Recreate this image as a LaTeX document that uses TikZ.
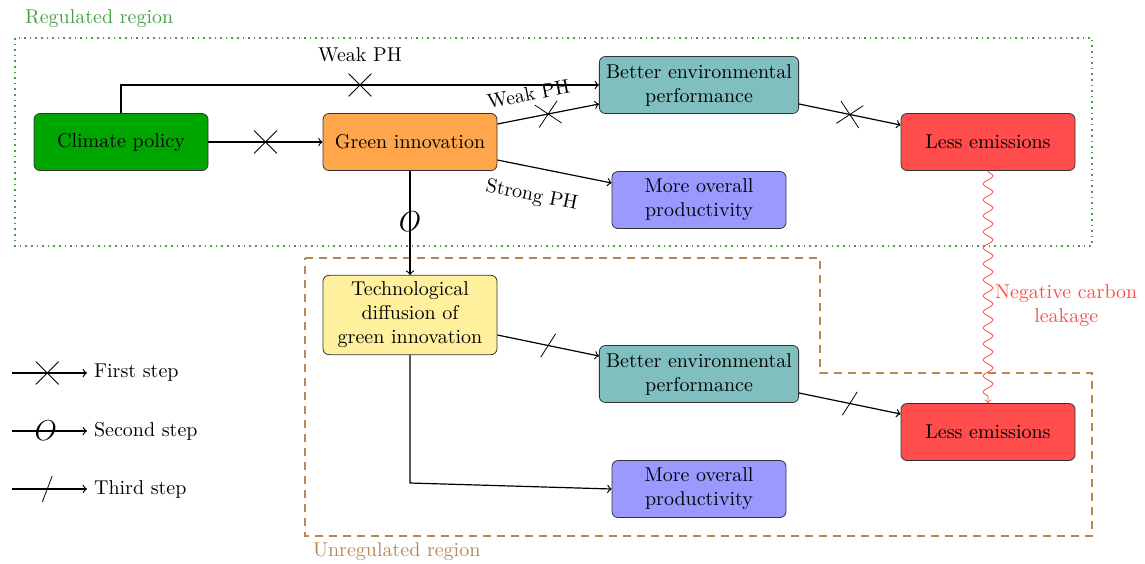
\documentclass[tikz,border=0pt]{standalone}
\usepackage{amssymb,amsmath}
\usepackage{tikz}
\usetikzlibrary{positioning, shapes, shapes.misc, decorations.pathmorphing}

\definecolor{regcol}{RGB}{70,160,70}
\definecolor{unregcol}{RGB}{185,135,85}
\definecolor{diffcol}{RGB}{255,240,158}

\begin{document}
\begin{tikzpicture}[x=0.5pt, y=-0.5pt,
    box/.style={draw=black!80, rounded corners=3pt, align=center, minimum width=87pt, minimum height=28.5pt},
    link/.style={semithick, ->},
    crossmark/.style={draw, thin, cross out, sloped, minimum size=11pt, inner sep=0pt},
    slashmark/.style={draw, thin, strike out, sloped, minimum width=4.5pt, minimum height=12.5pt, inner sep=0pt},
    omark/.style={font=\Large, inner sep=0pt},
    leak/.style={red!70, ->, decorate, decoration={snake, amplitude=2.5pt, segment length=8pt, post length=3pt}}]

    \useasboundingbox (0,0) rectangle (1145,563);

    % Regions
    \draw[regcol, dotted, thick] (15,38) rectangle (1092,246);
    \node[anchor=west, text=regcol] (reglabel) at (18,19) {Regulated region};

    \draw[unregcol, dashed, thick, dash pattern=on 4pt off 3pt]
        (305,258) -- (820,258) -- (820,373) -- (1092,373) -- (1092,536) -- (305,536) -- cycle;
    \node[anchor=west, text=unregcol] (unreglabel) at (306,552) {Unregulated region};

    % Boxes in the regulated region
    \node[box, fill=green!65!black] (cp) at (121,142) {Climate policy};
    \node[box, fill=orange!70] (gi) at (410,142) {Green innovation};
    \node[box, fill=teal!50] (be1) at (699,85) {Better environmental\\performance};
    \node[box, fill=blue!40] (mo1) at (699,200) {More overall\\productivity};
    \node[box, fill=red!70] (le1) at (988,142) {Less emissions};

    % Boxes in the unregulated region
    \node[box, fill=diffcol] (td) at (410,315) {Technological\\diffusion of\\green innovation};
    \node[box, fill=teal!50] (be2) at (699,374) {Better environmental\\performance};
    \node[box, fill=blue!40] (mo2) at (699,489) {More overall\\productivity};
    \node[box, fill=red!70] (le2) at (988,432) {Less emissions};

    % First step
    \draw[link] (cp.north) |- (be1.west) node[pos=0.75, crossmark] {} node[pos=0.75, above=8pt] {Weak PH};
    \draw[link] (cp) -- (gi) node[midway, crossmark] {};
    \draw[link] ([yshift=9pt]gi.east) -- ([yshift=-9.5pt]be1.west)
        node[midway, crossmark] {} node[pos=0.35, sloped, above=4.5pt] {Weak PH};
    \draw[link] ([yshift=-9pt]gi.east) -- ([yshift=8.5pt]mo1.west) node[pos=0.35, sloped, below=6pt] {Strong PH};
    \draw[link] ([yshift=-9.5pt]be1.east) -- ([yshift=8.5pt]le1.west) node[midway, crossmark] {};

    % Second step
    \draw[link] (gi) -- (td) node[pos=0.49, omark] {$O$};

    % Third step
    \draw[link] ([yshift=-10pt]td.east) -- ([yshift=9pt]be2.west) node[midway, slashmark] {};
    \draw[link] ([yshift=-9.5pt]be2.east) -- ([yshift=9pt]le2.west) node[midway, slashmark] {};
    \draw[link] (td.south) -- ([yshift=3pt]td.south |- mo2.west) -- (mo2.west);

    % Leakage
    \draw[leak] (le1) -- (le2) node[pos=0.58, right, align=center, text=red!70] {Negative carbon\\leakage};

    % Legend
    \node[anchor=west] (leg1) at (87,373) {First step};
    \node[anchor=west] (leg2) at (87,431) {Second step};
    \node[anchor=west] (leg3) at (87,489) {Third step};
    \coordinate (l1) at (12,373);
    \coordinate (l2) at (12,431);
    \coordinate (l3) at (12,489);
    \draw[link] (l1) -- (leg1.west) node[pos=0.47, crossmark] {};
    \draw[link] (l2) -- (leg2.west) node[pos=0.45, omark] {$O$};
    \draw[link] (l3) -- (leg3.west) node[pos=0.47, slashmark] {};

\end{tikzpicture}
\end{document}
